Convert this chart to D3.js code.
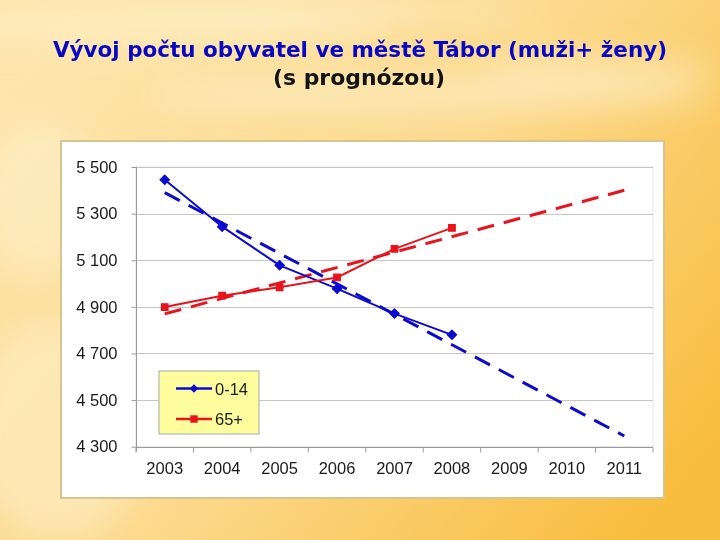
<!DOCTYPE html>
<html>
<head>
<meta charset="utf-8">
<script src="https://cdn.jsdelivr.net/npm/d3@7"></script>
<style>
  html, body { margin: 0; padding: 0; }
  svg { display: block; }
</style>
</head>
<body>
<svg id="chart" width="720" height="540"></svg>
<script>
// data
const years = ["2003", "2004", "2005", "2006", "2007", "2008", "2009", "2010", "2011"];
const kids = [5445, 5244, 5078, 4978, 4871, 4780];      // 0-14, 2003..2008
const seniors = [4899, 4948, 4984, 5026, 5149, 5239];   // 65+, 2003..2008
const trendYears = ["2003", "2011"];
const kidsTrend = [5390, 4346];
const seniorsTrend = [4870, 5400];
const yTicks = [4300, 4500, 4700, 4900, 5100, 5300, 5500];
const seriesNames = ["0-14", "65+"];

const svg = d3.select("#chart"),
  width = +svg.attr("width"),
  height = +svg.attr("height");

const fmt = d3.formatLocale({ decimal: ",", thousands: " ", grouping: [3], currency: ["", ""] }).format(",d");

// background
const defs = svg.append("defs");
const bg = defs.append("linearGradient").attr("id", "bg")
  .attr("x1", "0").attr("y1", "0.2").attr("x2", "1").attr("y2", "0.8");
bg.append("stop").attr("offset", "0").attr("stop-color", "#fde5ab");
bg.append("stop").attr("offset", "0.5").attr("stop-color", "#fcd98c");
bg.append("stop").attr("offset", "1").attr("stop-color", "#f8bd3e");
const blur = defs.append("filter").attr("id", "soft").attr("x", "-50%").attr("y", "-50%").attr("width", "200%").attr("height", "200%");
blur.append("feGaussianBlur").attr("stdDeviation", 16);

svg.append("rect").attr("width", width).attr("height", height).attr("fill", "url(#bg)");
// pale cloudy streaks
const clouds = [[150, 25, 240, 22], [430, 95, 280, 20], [60, 430, 90, 110], [330, 12, 200, 14], [600, 70, 120, 14], [40, 200, 60, 80]];
svg.append("g").attr("filter", "url(#soft)")
  .selectAll("ellipse").data(clouds).join("ellipse")
  .attr("cx", d => d[0]).attr("cy", d => d[1]).attr("rx", d => d[2]).attr("ry", d => d[3])
  .attr("fill", "#fef0cc").attr("opacity", 0.55);

// title
svg.append("text")
  .attr("x", 360).attr("y", 57)
  .attr("text-anchor", "middle")
  .attr("textLength", 614).attr("lengthAdjust", "spacingAndGlyphs")
  .style("font-family", "'DejaVu Sans', Verdana, sans-serif")
  .style("font-weight", "bold").style("font-size", "22px")
  .attr("fill", "#0808c4")
  .text("Vývoj počtu obyvatel ve městě Tábor (muži+ ženy)");
svg.append("text")
  .attr("x", 359).attr("y", 85)
  .attr("text-anchor", "middle")
  .attr("textLength", 172).attr("lengthAdjust", "spacingAndGlyphs")
  .style("font-family", "'DejaVu Sans', Verdana, sans-serif")
  .style("font-weight", "bold").style("font-size", "22px")
  .attr("fill", "#111")
  .text("(s prognózou)");

// chart box
svg.append("rect")
  .attr("x", 61).attr("y", 141).attr("width", 603).attr("height", 357)
  .attr("fill", "#fff").attr("stroke", "#d9c38f").attr("stroke-width", 2);

const x = d3.scaleBand().domain(years).range([136, 653]);
const y = d3.scaleLinear().domain([4300, 5500]).range([446.7, 167]);
const cx = d => x(d) + x.bandwidth() / 2;

// plot area border
svg.append("rect")
  .attr("x", 136).attr("y", y(5500)).attr("width", 653 - 136).attr("height", y(4300) - y(5500))
  .attr("fill", "none").attr("stroke", "#e4e4e4");

// grid
svg.append("g").selectAll("line").data(yTicks).join("line")
  .attr("x1", 136).attr("x2", 653)
  .attr("y1", d => Math.round(y(d)) + 0.5).attr("y2", d => Math.round(y(d)) + 0.5)
  .attr("stroke", "#c6c6c6").attr("stroke-width", 1.2);

// y axis
const yAxis = svg.append("g").attr("transform", "translate(136.5,0)")
  .call(d3.axisLeft(y).tickValues(yTicks).tickFormat(fmt).tickSize(5).tickPadding(14));
yAxis.select(".domain").attr("stroke", "#9a9a9a").attr("d", `M-0,${y(5500)}V${y(4300) + 5}`);
yAxis.selectAll(".tick line").attr("stroke", "#9a9a9a");
yAxis.selectAll("text").attr("fill", "#1a1a1a")
  .style("font-family", "'Liberation Sans', Arial, sans-serif").style("font-size", "16.5px");

// x axis
const xAxis = svg.append("g").attr("transform", `translate(0,${Math.round(y(4300)) + 0.5})`)
  .call(d3.axisBottom(x).tickSize(0).tickPadding(15));
xAxis.select(".domain").attr("stroke", "#9a9a9a").attr("d", "M136,0H653");
xAxis.selectAll("text").attr("fill", "#1a1a1a")
  .style("font-family", "'Liberation Sans', Arial, sans-serif").style("font-size", "16.5px");
xAxis.selectAll(".bound").data(years.concat(["end"])).join("line")
  .attr("x1", (d, i) => 136 + i * x.step()).attr("x2", (d, i) => 136 + i * x.step())
  .attr("y1", 0).attr("y2", 5).attr("stroke", "#9a9a9a");

// trend lines
const line = d3.line().x(d => cx(d[0])).y(d => y(d[1]));
const trends = [
  { vals: kidsTrend, color: "#0a0ad0" },
  { vals: seniorsTrend, color: "#e8141c" }
];
svg.append("g").selectAll("path").data(trends).join("path")
  .attr("d", t => line(trendYears.map((yr, i) => [yr, t.vals[i]])))
  .attr("fill", "none").attr("stroke", t => t.color)
  .attr("stroke-width", 3).attr("stroke-dasharray", "17 10");

// data lines
const series = [
  { name: seriesNames[0], vals: kids, color: "#0a0ad0", shape: d3.symbolDiamond2 },
  { name: seriesNames[1], vals: seniors, color: "#e8141c", shape: d3.symbolSquare2 }
];
series.forEach(s => {
  const pts = s.vals.map((v, i) => [years[i], v]);
  svg.append("path").attr("d", line(pts))
    .attr("fill", "none").attr("stroke", s.color).attr("stroke-width", 2);
  svg.append("g").selectAll("path").data(pts).join("path")
    .attr("transform", d => `translate(${cx(d[0])},${y(d[1])})`)
    .attr("d", d3.symbol().type(s.shape).size(55))
    .attr("fill", s.color).attr("stroke", s.color).attr("stroke-width", 1.2);
});

// legend
const lg = svg.append("g").attr("transform", "translate(159,371)");
lg.append("rect").attr("width", 100).attr("height", 63)
  .attr("fill", "#fdfd9d").attr("stroke", "#a9a9a9");
series.forEach((s, i) => {
  const ly = 17.5 + i * 30.5;
  lg.append("line").attr("x1", 17).attr("x2", 53).attr("y1", ly).attr("y2", ly)
    .attr("stroke", s.color).attr("stroke-width", 2.5);
  lg.append("path").attr("transform", `translate(35,${ly})`)
    .attr("d", d3.symbol().type(s.shape).size(i ? 70 : 45)).attr("fill", s.color);
  lg.append("text").attr("x", 56).attr("y", ly + 6)
    .style("font-family", "'Liberation Sans', Arial, sans-serif").style("font-size", "16.5px")
    .attr("fill", "#1a1a1a").text(s.name);
});
</script>
</body>
</html>
